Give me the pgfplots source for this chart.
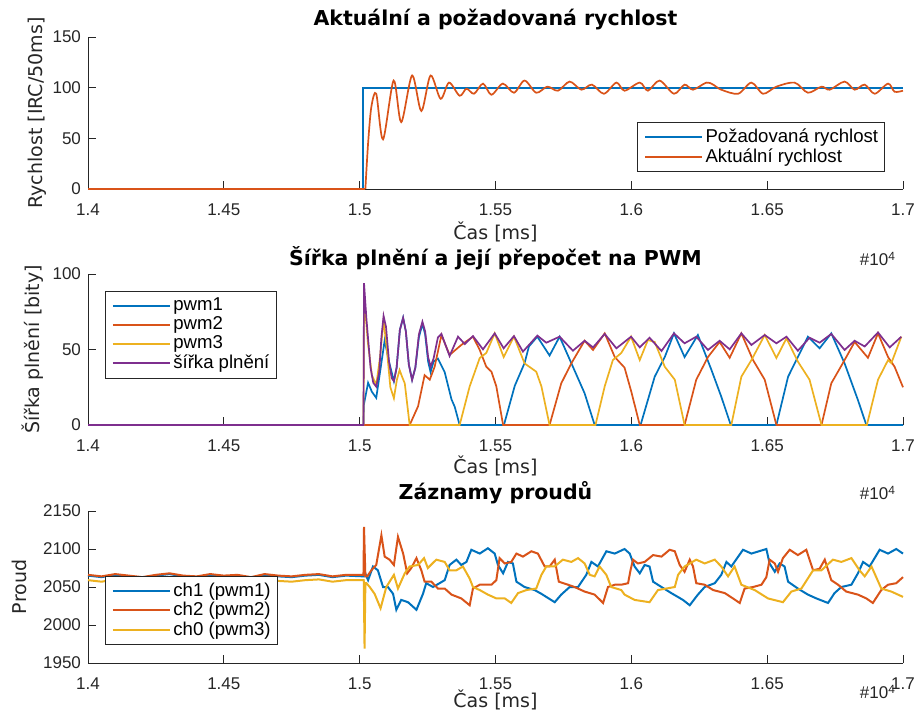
\documentclass[border=0pt]{standalone}
\usepackage{fontspec}
\setmainfont{Liberation Sans}
\newfontfamily\dejavu{DejaVu Sans}
\usepackage{pgfplots}
\pgfplotsset{compat=1.18}

\definecolor{mblue}{rgb}{0,0.447,0.741}
\definecolor{morange}{rgb}{0.85,0.325,0.098}
\definecolor{myellow}{rgb}{0.929,0.694,0.125}
\definecolor{mpurple}{rgb}{0.494,0.184,0.556}
\definecolor{mgray}{rgb}{0.15,0.15,0.15}

\pgfplotsset{
  mstyle/.style={
    scale only axis, width=407.5pt,
    axis x line*=bottom, axis y line*=left,
    axis line style={-, draw=mgray, line width=0.4pt},
    xmin=14000, xmax=17000, scaled x ticks=false,
    xtick={14000,14500,15000,15500,16000,16500,17000},
    xticklabels={1.4,1.45,1.5,1.55,1.6,1.65,1.7},
    tick align=inside, major tick length=4pt,
    tick style={draw=mgray, line width=0.4pt},
    ticklabel style={font=\fontsize{8.5}{10}\selectfont, text=mgray},
    xticklabel style={yshift=-4pt},
    /pgf/number format/assume math mode=true,
    /pgf/number format/1000 sep={},
    xlabel={Čas [ms]},
    xlabel style={font=\dejavu\fontsize{9.5}{11}\selectfont, text=mgray, anchor=center},
    ylabel style={font=\dejavu\fontsize{9.5}{11}\selectfont, text=mgray, anchor=center},
    every axis title shift=0pt,
    title style={font=\dejavu\bfseries\fontsize{10.25}{12}\selectfont, anchor=center},
    legend style={font=\fontsize{9.3}{11}\selectfont, draw=mgray, line width=0.4pt,
      inner xsep=2pt, inner ysep=2.5pt, nodes={inner xsep=1.25pt, inner ysep=0.75pt}},
    legend cell align=left,
    legend image code/.code={\path (0pt,0pt); \draw[#1, line width=1pt] (1.25pt,0pt) -- (29.75pt,0pt);},
    every axis plot/.append style={line width=0.85pt},
    clip=false,
  }
}

\begin{document}
\begin{tikzpicture}
\useasboundingbox (0,0) rectangle (457.5pt,-358.5pt);

% --- rychlost
\begin{axis}[mstyle, at={(44pt,-18.5pt)}, anchor=north west, height=76pt,
  ymin=0, ymax=150, ytick={0,50,100,150},
  title={Aktuální a požadovaná rychlost},
  title style={at={(rel axis cs:0.5,1.112)}},
  ylabel={Rychlost [IRC/50ms]},
  ylabel style={at={(rel axis cs:-0.0626,0.5)}},
  xlabel style={at={(rel axis cs:0.5,-0.283)}},
  legend style={at={(0.978,0.112)}, anchor=south east},
]
\addplot[mblue] coordinates {(14000,0) (15013,0) (15013,100) (17000,100)};
\addlegendentry{Požadovaná rychlost}
\addplot[morange, smooth, tension=0.5] coordinates {
(15021,0) (15031,45) (15043,81) (15061,94) (15086,49) (15125,107)
(15153,66) (15193,112) (15227,77) (15261,112) (15298,89) (15329,105) (15368,92)
(15393,99) (15421,94) (15454,104) (15485,93) (15527,104) (15568,95) (15607,107)
(15650,95) (15691,101) (15730,97) (15773,106) (15816,98) (15855,103) (15899,94)
(15945,105) (15975,97) (16031,105) (16061,97) (16104,107) (16157,94) (16196,103)
(16227,98) (16276,105) (16301,103) (16331,98) (16393,94) (16442,105) (16485,94)
(16534,101) (16601,105) (16650,95) (16700,101) (16730,98) (16785,106) (16822,98)
(16859,103) (16896,94) (16945,104) (16969,96) (17000,97)};
\addlegendentry{Aktuální rychlost}
\addplot[morange, forget plot] coordinates {(14000,0) (15021,0)};
\node[anchor=east, font=\fontsize{8.5}{10}\selectfont, text=mgray] at (rel axis cs:1,-0.46) {\#10\textsuperscript{4}};
\end{axis}

% --- PWM
\begin{axis}[mstyle, at={(44pt,-137pt)}, anchor=north west, height=75.5pt,
  ymin=0, ymax=100, ytick={0,50,100},
  title={Šířka plnění a její přepočet na PWM},
  title style={at={(rel axis cs:0.5,1.106)}},
  ylabel={Šířka plnění [bity]},
  ylabel style={at={(rel axis cs:-0.0675,0.5)}},
  xlabel style={at={(rel axis cs:0.5,-0.272)}},
  legend style={at={(0.0209,0.887)}, anchor=north west},
]
\addplot[mblue] coordinates {
(14000,0) (15014,0) (15015,13) (15031,28) (15045,22) (15061,18) (15075,35)
(15092,56) (15108,42) (15126,29) (15136,38) (15148,63) (15160,71) (15170,62)
(15181,40) (15193,30) (15205,38) (15218,58) (15231,67) (15241,60) (15252,42)
(15261,35) (15272,42) (15288,44) (15313,35) (15338,17)
(15350,12) (15368,0) (15531,0) (15571,26) (15607,41) (15623,52) (15654,58.5)
(15699,46) (15736,58.5) (15779,41) (15828,21) (15865,0) (16034,0) (16086,32)
(16123,45) (16157,60.7) (16196,45) (16245,59.6) (16295,36.4) (16331,18.8)
(16366,0) (16534,0) (16577,32) (16613,45) (16650,58.5) (16693,50.8) (16736,60.7)
(16785,40.8) (16834,16.6) (16865,0) (17000,0)};
\addlegendentry{pwm1}
\addplot[morange] coordinates {
(14000,0) (15184,0) (15215,12.4) (15239,33) (15258,30) (15276,38.6) (15301,59.6)
(15331,46.4) (15374,53) (15417,58.5) (15442,49.7) (15466,38.6) (15485,35.3)
(15503,25.6) (15528,0) (15699,0) (15742,27.6) (15779,40.8) (15828,55.8)
(15859,49.7) (15902,60.7) (15939,45) (15975,38) (16000,22) (16031,0) (16196,0)
(16239,30) (16282,45) (16325,55) (16362,44.5) (16405,60.7) (16448,43) (16491,30)
(16534,0) (16700,0) (16736,27.6) (16785,43) (16822,55) (16871,44.5) (16908,60.7)
(16945,45) (16969,38.6) (17000,25)};
\addlegendentry{pwm2}
\addplot[myellow] coordinates {
(14000,0) (15014,0) (15016,86) (15030,55) (15045,33) (15061,26.5) (15075,45)
(15088,69.5) (15100,50) (15113,25) (15126,17.7) (15137,30)
(15147,36.4) (15156,32) (15166,27.6) (15184,0) (15368,0) (15405,25.6) (15442,44.4)
(15466,47.7) (15497,60.7) (15530,45) (15568,58.5) (15607,40.8) (15650,35.3)
(15669,25.6) (15699,0) (15868,0) (15902,25.6) (15932,43) (15963,47.7)
(15999,58.5) (16031,43) (16061,56.3) (16086,55) (16123,38.6) (16160,30)
(16196,0) (16368,0) (16405,32) (16442,43) (16491,59.6) (16534,44.4) (16571,57.4)
(16613,42) (16656,30) (16700,0) (16867,0) (16908,30) (16945,43) (16957,41)
(16994,58.5)};
\addlegendentry{pwm3}
\addplot[mpurple] coordinates {
(14000,0) (15014,0) (15016,94) (15025,70) (15040,38) (15050,28) (15061,25.4)
(15072,35) (15080,58) (15088,72.2) (15097,65) (15108,42) (15118,31) (15126,29.1)
(15136,38) (15148,63) (15160,71) (15170,62) (15181,40) (15193,29.8) (15205,38)
(15218,60) (15231,68.4) (15241,62) (15252,45) (15261,38.6) (15272,44) (15288,58)
(15301,60.3) (15331,45.7) (15362,58.5)
(15387,53.6) (15417,58.9) (15454,50.1) (15497,60.7) (15530,50.8) (15568,58.9)
(15601,48.6) (15654,59.2) (15687,54.5) (15736,58.5) (15785,49.2) (15828,55.8)
(15859,51.4) (15902,60.3) (15945,50.8) (15999,58.5) (16031,51.4) (16067,57.8)
(16111,49) (16157,60.7) (16196,54.1) (16239,58.5) (16282,49.7) (16325,55.8)
(16362,50.1) (16405,60.7) (16442,53) (16491,59.6) (16534,54.1) (16571,58.5)
(16613,49.2) (16656,57.8) (16693,54.5) (16736,60.3) (16785,49.7) (16822,55.8)
(16859,52) (16908,61.3) (16951,51.4) (16994,58.5)};
\addlegendentry{šířka plnění}
\node[anchor=east, font=\fontsize{8.5}{10}\selectfont, text=mgray] at (rel axis cs:1,-0.45) {\#10\textsuperscript{4}};
\end{axis}

% --- proudy
\begin{axis}[mstyle, at={(44pt,-255.5pt)}, anchor=north west, height=76pt,
  ymin=1950, ymax=2150, ytick={1950,2000,2050,2100,2150},
  every axis plot/.append style={line width=1pt},
  title={Záznamy proudů},
  title style={at={(rel axis cs:0.5,1.118)}},
  ylabel={Proud},
  ylabel style={at={(rel axis cs:-0.0847,0.5)}},
  xlabel style={at={(rel axis cs:0.5,-0.243)}},
  legend style={at={(0.0209,0.118)}, anchor=south west},
]
\addplot[mblue] coordinates {
(14000,2065) (14050,2063) (14100,2066) (14150,2064) (14200,2062) (14250,2065)
(14300,2067) (14350,2064) (14400,2063) (14450,2066) (14500,2064) (14550,2065)
(14600,2062) (14650,2066) (14700,2064) (14750,2063) (14800,2065) (14850,2066)
(14900,2063) (14950,2065) (15015,2064)
(15018,2070) (15031,2059) (15049,2077) (15067,2072) (15086,2050) (15104,2050)
(15123,2041) (15135,2020) (15153,2033) (15178,2030) (15209,2020) (15233,2041)
(15245,2055) (15270,2050) (15294,2055) (15313,2059) (15331,2079) (15356,2086)
(15374,2079) (15393,2083) (15411,2099) (15442,2094) (15472,2101) (15497,2094)
(15509,2079) (15528,2068) (15546,2083) (15564,2081) (15577,2057) (15607,2050)
(15644,2046) (15669,2041) (15718,2030) (15742,2040) (15773,2050) (15804,2050)
(15834,2066) (15853,2083) (15877,2077) (15908,2097) (15939,2094) (15975,2100)
(15994,2094) (16012,2077) (16031,2068) (16049,2079) (16067,2077) (16080,2057)
(16111,2050) (16147,2042) (16190,2033) (16215,2026) (16245,2040) (16270,2050)
(16307,2055) (16331,2066) (16350,2083) (16368,2077) (16411,2099) (16442,2094)
(16497,2100) (16509,2081) (16528,2070) (16546,2081) (16564,2077) (16577,2057)
(16613,2048) (16650,2040) (16681,2035) (16724,2029) (16748,2042) (16773,2050)
(16810,2053) (16834,2068) (16853,2083) (16877,2077) (16914,2099) (16945,2094)
(16975,2100) (17000,2094)};
\addlegendentry{ch1 (pwm1)}
\addplot[morange] coordinates {
(14000,2066) (14050,2064) (14100,2067) (14150,2065) (14200,2063) (14250,2066)
(14300,2068) (14350,2065) (14400,2064) (14450,2067) (14500,2065) (14550,2066)
(14600,2063) (14650,2067) (14700,2065) (14750,2064) (14800,2066) (14850,2067)
(14900,2064) (14950,2066) (15014,2066)
(15016,2129) (15021,2064) (15028,2064) (15043,2072) (15061,2079) (15080,2118)
(15092,2090) (15110,2086) (15126,2079) (15141,2116) (15160,2094) (15175,2068)
(15190,2075) (15209,2088) (15227,2072) (15239,2057) (15264,2057) (15288,2048)
(15313,2048) (15338,2040) (15374,2035) (15405,2026) (15417,2048) (15442,2053)
(15485,2053) (15503,2059) (15515,2088) (15534,2081) (15558,2083) (15577,2094)
(15601,2090) (15632,2097) (15656,2094) (15681,2077) (15699,2077) (15718,2086)
(15733,2057) (15767,2053) (15791,2050) (15828,2044) (15865,2040) (15896,2029)
(15914,2050) (15939,2053) (15963,2053) (15988,2055) (15997,2072) (16006,2086)
(16024,2081) (16049,2083) (16080,2092) (16111,2090) (16141,2099) (16160,2097)
(16178,2079) (16196,2070) (16215,2086) (16227,2077) (16239,2055) (16270,2053)
(16301,2046) (16344,2042) (16374,2035) (16399,2029) (16417,2048) (16448,2050)
(16479,2053) (16497,2063) (16509,2086) (16528,2081) (16540,2070) (16558,2088)
(16583,2099) (16613,2092) (16644,2099) (16669,2072) (16693,2074) (16712,2086)
(16736,2059) (16761,2053) (16791,2044) (16834,2040) (16865,2035) (16889,2029)
(16920,2046) (16945,2053) (16975,2055) (17000,2063)};
\addlegendentry{ch2 (pwm2)}
\addplot[myellow] coordinates {
(14000,2059) (14050,2057) (14100,2060) (14150,2058) (14200,2056) (14250,2059)
(14300,2061) (14350,2058) (14400,2057) (14450,2060) (14500,2058) (14550,2059)
(14600,2056) (14650,2060) (14700,2058) (14750,2057) (14800,2059) (14850,2060)
(14900,2057) (14950,2059) (15015,2059)
(15018,1969) (15021,2055) (15025,2055) (15037,2050) (15055,2041) (15077,2022)
(15098,2050) (15126,2066) (15141,2048) (15166,2068) (15184,2077) (15215,2079)
(15237,2088) (15251,2075) (15282,2086) (15313,2083) (15331,2072) (15356,2072)
(15380,2077) (15405,2061) (15417,2050) (15442,2046) (15472,2040) (15503,2035)
(15534,2035) (15558,2029) (15583,2042) (15614,2046) (15650,2048) (15669,2066)
(15687,2077) (15718,2077) (15748,2086) (15779,2083) (15804,2088) (15828,2081)
(15847,2066) (15865,2064) (15883,2077) (15908,2066) (15926,2050) (15963,2046)
(15975,2040) (16012,2033) (16067,2030) (16098,2046) (16129,2048) (16160,2050)
(16172,2066) (16196,2077) (16239,2086) (16270,2081) (16307,2086) (16331,2077)
(16356,2064) (16380,2077) (16405,2053) (16454,2046) (16503,2035) (16558,2030)
(16589,2044) (16626,2048) (16669,2072) (16700,2072) (16742,2086) (16773,2083)
(16810,2088) (16840,2072) (16859,2064) (16884,2077) (16920,2048) (16957,2044)
(17000,2037)};
\addlegendentry{ch0 (pwm3)}
\node[anchor=east, font=\fontsize{8.5}{10}\selectfont, text=mgray] at (rel axis cs:1,-0.19) {\#10\textsuperscript{4}};
\end{axis}
\end{tikzpicture}
\end{document}
